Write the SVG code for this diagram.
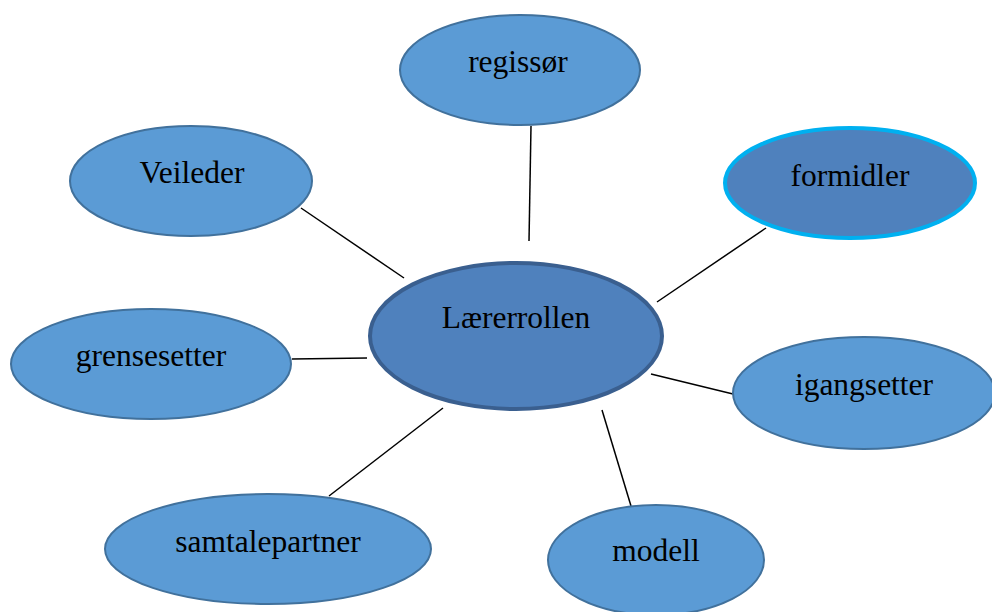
<svg xmlns="http://www.w3.org/2000/svg" width="992" height="612" viewBox="0 0 992 612">
<style>
.n{fill:#5b9bd5;stroke:#41719c;stroke-width:2}
.t{font-family:"Liberation Serif","Times New Roman",serif;font-size:31.5px;fill:#000;text-anchor:middle}
.c line{stroke:#000;stroke-width:1.5}
</style>
<rect width="992" height="612" fill="#fff"/>
<g class="c" id="connectors">
<line x1="531" y1="126" x2="529" y2="241"/>
<line x1="301" y1="208" x2="404" y2="278"/>
<line x1="766" y1="228" x2="657" y2="302"/>
<line x1="292" y1="359" x2="367" y2="358"/>
<line x1="651" y1="374" x2="733" y2="394"/>
<line x1="443" y1="408" x2="329" y2="496"/>
<line x1="602" y1="410" x2="631" y2="506"/>
</g>
<g id="center">
<ellipse cx="516" cy="336" rx="146" ry="73" fill="#4f81bd" stroke="#3a5f8f" stroke-width="4"/>
<text class="t" x="516" y="328">Lærerrollen</text>
</g>
<g id="regissor">
<ellipse class="n" cx="520" cy="70" rx="120" ry="55"/>
<text class="t" x="518" y="72">regissør</text>
</g>
<g id="veileder">
<ellipse class="n" cx="191" cy="181" rx="121" ry="55"/>
<text class="t" x="192" y="183">Veileder</text>
</g>
<g id="formidler">
<ellipse cx="850" cy="183" rx="125" ry="55" fill="#4f81bd" stroke="#00b0f0" stroke-width="4"/>
<text class="t" x="850" y="186">formidler</text>
</g>
<g id="grensesetter">
<ellipse class="n" cx="151" cy="364" rx="140" ry="55"/>
<text class="t" x="151" y="366">grensesetter</text>
</g>
<g id="igangsetter">
<ellipse class="n" cx="864" cy="393" rx="131" ry="56"/>
<text class="t" x="864" y="395">igangsetter</text>
</g>
<g id="samtalepartner">
<ellipse class="n" cx="268" cy="549" rx="163" ry="55"/>
<text class="t" x="268" y="552">samtalepartner</text>
</g>
<g id="modell">
<ellipse class="n" cx="656" cy="560" rx="108" ry="55"/>
<text class="t" x="656" y="561">modell</text>
</g>
</svg>
